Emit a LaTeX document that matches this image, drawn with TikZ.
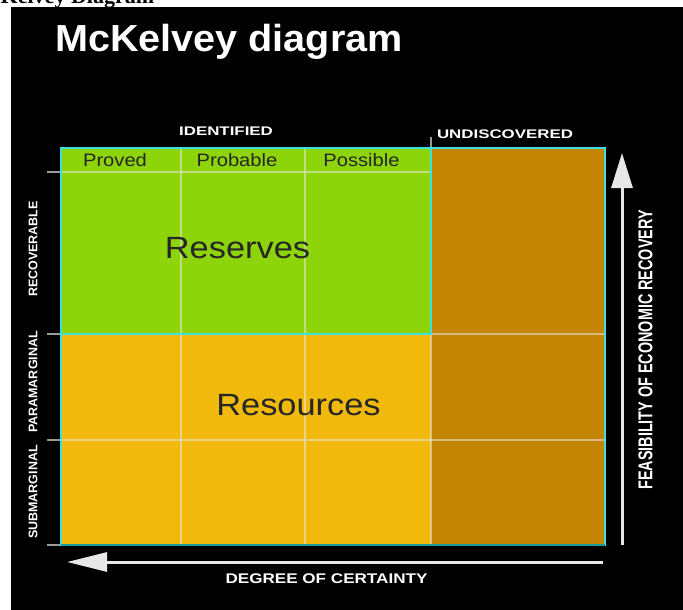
\documentclass[tikz,border=0pt]{standalone}
\usepackage{fontspec}
\setmainfont{Liberation Sans}
\newfontfamily\pageserif{Liberation Serif}
\newfontfamily\headfont[FakeStretch=1.05]{Liberation Sans}
\newfontfamily\widefont[FakeStretch=1.35]{Liberation Sans}
\newfontfamily\captionfont[FakeStretch=1.22]{Liberation Sans}
\newfontfamily\narrowfont[FakeStretch=0.72]{Liberation Sans}
\newfontfamily\cellfont[FakeStretch=1.12]{Liberation Sans}
\usetikzlibrary{arrows.meta}
\usepackage{xcolor}
\definecolor{ReserveGreen}{HTML}{8ED40A}
\definecolor{ResourceYellow}{HTML}{F0B90C}
\definecolor{UndiscOrange}{HTML}{C48505}
\definecolor{RimCyan}{HTML}{3CE0E0}
\definecolor{RimTeal}{HTML}{169C9C}
\definecolor{TickGray}{HTML}{9A9A9A}
\definecolor{AxisWhite}{HTML}{E8E8E8}

\begin{document}
\begin{tikzpicture}[x=1pt, y=-1pt,
    every node/.style={inner sep=0pt},
    grid line/.style={AxisWhite, opacity=0.55, line width=1.3pt},
    rim/.style={RimCyan, line width=2pt},
    tick/.style={TickGray, line width=1.3pt},
    axis/.style={AxisWhite, line width=3pt},
    cell/.style={black!85, font=\cellfont\fontsize{18}{20}\selectfont},
    field/.style={black!85, font=\cellfont\fontsize{30.7}{34}\selectfont},
    side/.style={white, rotate=90, font=\bfseries\fontsize{12.5}{14}\selectfont},
    column/.style={white, font=\widefont\bfseries\fontsize{12.5}{14}\selectfont}]

    \useasboundingbox (0,0) rectangle (683,610);

    % Page heading, cut off by the panel
    \begin{scope}
        \clip (0,0) rectangle (683,7);
        \node[anchor=base west, font=\pageserif\bfseries\fontsize{22}{26}\selectfont] (pagehead) at (-30,4) {McKelvey Diagram};
    \end{scope}

    % Black panel
    \fill[black] (11,7) rectangle (683,610);

    % Title
    \node[white, anchor=base, font=\headfont\bfseries\fontsize{37.7}{40}\selectfont] (title) at (229,52) {McKelvey diagram};

    % Fields
    \fill[ResourceYellow] (61,148) rectangle (431,545);
    \fill[ReserveGreen] (61,148) rectangle (431,334);
    \fill[UndiscOrange] (431,148) rectangle (605,545);

    % Grid
    \draw[grid line] (181,148) -- (181,545);
    \draw[grid line] (305,148) -- (305,545);
    \draw[grid line] (61,172) -- (431,172);
    \draw[grid line] (431,334) -- (605,334);
    \draw[grid line] (431,334) -- (431,545);
    \draw[grid line] (61,440) -- (605,440);

    % Ticks
    \foreach \y in {172,334,440,545}
        \draw[tick] (47,\y) -- (61,\y);
    \draw[tick] (431,137) -- (431,148);

    % Rims
    \draw[rim] (61,334) -- (431,334) -- (431,148);
    \draw[rim] (61,148) rectangle (605,545);
    \draw[RimTeal, line width=2pt] (61,545) -- (605,545);

    % Column heads
    \node[column] (identified) at (226,131.5) {IDENTIFIED};
    \node[column] (undiscovered) at (505,134.5) {UNDISCOVERED};
    \node[cell] (proved) at (115,160) {Proved};
    \node[cell] (probable) at (237,160) {Probable};
    \node[cell] (possible) at (361.5,160) {Possible};

    % Field labels
    \node[field] (reserves) at (237.5,248) {Reserves};
    \node[field] (resources) at (298.5,405) {Resources};

    % Row labels
    \node[side] (recoverable) at (33,249) {RECOVERABLE};
    \node[side] (paramarginal) at (33,382) {PARAMARGINAL};
    \node[side] (submarginal) at (33,492) {SUBMARGINAL};

    % Axes
    \coordinate (certainty tail) at (603,562);
    \coordinate (certainty tip) at (67,562);
    \draw[axis, -{Triangle[length=40pt, width=19pt]}] (certainty tail) -- (certainty tip);
    \node[white, font=\captionfont\bfseries\fontsize{14}{16}\selectfont] (certainty) at (326.5,579) {DEGREE OF CERTAINTY};

    \coordinate (feasibility tail) at (622,545);
    \coordinate (feasibility tip) at (622,153);
    \draw[axis, -{Triangle[length=35pt, width=21pt]}] (feasibility tail) -- (feasibility tip);
    \node[white, rotate=90, font=\narrowfont\bfseries\fontsize{20}{22}\selectfont] (feasibility) at (645.5,350) {FEASIBILITY OF ECONOMIC RECOVERY};
\end{tikzpicture}
\end{document}
